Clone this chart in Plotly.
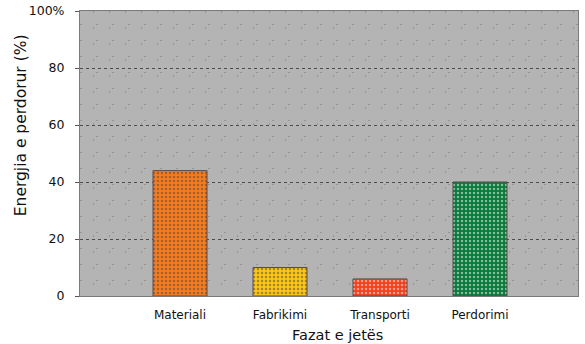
import plotly.graph_objects as go

# Life-cycle phases and the share of energy used in each
phases = ["Materiali", "Fabrikimi", "Transporti", "Perdorimi"]
energy_pct = [44, 10, 6, 40]
bar_colors = ["#f77b1e", "#fcc512", "#f2401c", "#08793a"]
pattern_colors = ["#e06a1a", "#eab010", "#d83818", "#066a30"]

y_ticks = [0, 20, 40, 60, 80, 100]
y_tick_text = ["0", "20", "40", "60", "80", "100%"]

x_title = "Fazat e jetës"
y_title = "Energjia e perdorur (%)"

positions = list(range(len(phases)))
text_color = "#111111"
font_family = "DejaVu Sans, Verdana, sans-serif"

fig = go.Figure(
    go.Bar(
        x=positions,
        y=energy_pct,
        width=0.54,
        marker=dict(
            color=bar_colors,
            line=dict(color="#5a4a4a", width=1),
            pattern=dict(shape=".", fgcolor=pattern_colors, size=4, solidity=0.3),
        ),
        hoverinfo="x+y",
    )
)

fig.update_layout(
    width=585,
    height=344,
    margin=dict(l=80, r=7, t=11, b=48),
    paper_bgcolor="white",
    plot_bgcolor="#b4b4b4",
    showlegend=False,
    font=dict(family=font_family, color=text_color, size=12),
    annotations=[
        # axis titles placed as free text so they sit where the layout wants them
        dict(text=x_title, xref="paper", yref="paper", x=0.517, y=-0.138,
             xanchor="center", yanchor="middle", showarrow=False,
             font=dict(size=14.5, color=text_color, family=font_family)),
        dict(text=y_title, xref="paper", yref="paper", x=-0.118, y=0.6,
             xanchor="center", yanchor="middle", textangle=-90, showarrow=False,
             font=dict(size=15.5, color=text_color, family=font_family)),
    ],
)

fig.update_xaxes(
    automargin=False,
    range=[-1, 3.98],
    tickmode="array",
    tickvals=positions,
    ticktext=phases,
    tickfont=dict(size=12, color=text_color, family=font_family),
    ticklabelstandoff=8,
    showgrid=False,
    zeroline=False,
    showline=True,
    linecolor="#7a7a7a",
    linewidth=1,
    mirror=True,
    ticks="",
    minor=dict(dtick=0.16, tick0=-0.87, showgrid=True, gridcolor="#959595",
               griddash="2px,14px", gridwidth=1),
)

fig.update_yaxes(
    automargin=False,
    range=[0, 100],
    tickmode="array",
    tickvals=y_ticks,
    ticktext=y_tick_text,
    tickfont=dict(size=12.5, color=text_color, family=font_family),
    ticklabelstandoff=8,
    showgrid=True,
    gridcolor="#4a4a4a",
    griddash="dot",
    gridwidth=1,
    zeroline=False,
    showline=True,
    linecolor="#7a7a7a",
    linewidth=1,
    mirror=True,
    ticks="outside",
    ticklen=4,
    tickcolor="#555555",
    minor=dict(dtick=5.6, showgrid=True, gridcolor="#959595",
               griddash="2px,14px", gridwidth=1),
)

fig.write_html("out.html")
